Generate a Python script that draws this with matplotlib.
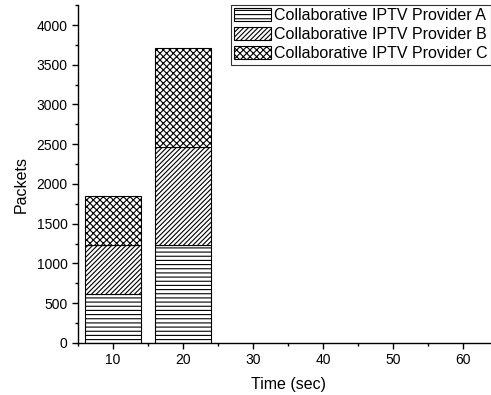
import matplotlib
matplotlib.use("Agg")
import matplotlib.pyplot as plt
from matplotlib.ticker import MultipleLocator

plt.rcParams['font.family'] = ['Liberation Sans', 'DejaVu Sans']
plt.rcParams['hatch.linewidth'] = 0.8

# data
times = [10, 20]
provider_a = [615, 1230]
provider_b = [615, 1235]
provider_c = [620, 1245]
labels = ["Collaborative IPTV Provider A",
          "Collaborative IPTV Provider B",
          "Collaborative IPTV Provider C"]
hatches = ["----", "///////", "xxxxx"]

fig = plt.figure(figsize=(4.91, 3.95), dpi=100)
ax = fig.add_axes([0.159, 0.132, 0.841, 0.855])

bottom = [0, 0]
for vals, lab, h in zip([provider_a, provider_b, provider_c], labels, hatches):
    ax.bar(times, vals, width=8, bottom=bottom, color="white",
           edgecolor="black", hatch=h, linewidth=0.8, label=lab)
    bottom = [b + v for b, v in zip(bottom, vals)]

ax.set_xlim(5, 64)
ax.set_ylim(0, 4250)
ax.xaxis.set_major_locator(MultipleLocator(10))
ax.xaxis.set_minor_locator(MultipleLocator(5))
ax.yaxis.set_major_locator(MultipleLocator(500))
ax.yaxis.set_minor_locator(MultipleLocator(250))
ax.set_xticks([10, 20, 30, 40, 50, 60])
ax.tick_params(which="major", direction="out", length=4, width=1, labelsize=10)
ax.tick_params(which="minor", direction="out", length=2.5, width=1)
for s in ["top", "right"]:
    ax.spines[s].set_visible(False)
for s in ["left", "bottom"]:
    ax.spines[s].set_linewidth(1.0)

ax.set_xlabel("Time (sec)", fontsize=11.5)
ax.set_ylabel("Packets", fontsize=11.5)
# label sits a little below the axis middle in the reference
ax.yaxis.set_label_coords(-0.119, 0.47)
ax.xaxis.set_label_coords(0.51, -0.1)

leg = ax.legend(loc="upper right", bbox_to_anchor=(1.0, 1.0), fontsize=11.5,
                frameon=True, fancybox=False, edgecolor="black",
                handlelength=2.3, handleheight=0.85, handletextpad=0.2,
                borderpad=0.2, labelspacing=0.25, borderaxespad=0.0)
leg.get_frame().set_linewidth(0.8)

fig.savefig("out.png", dpi=100)
